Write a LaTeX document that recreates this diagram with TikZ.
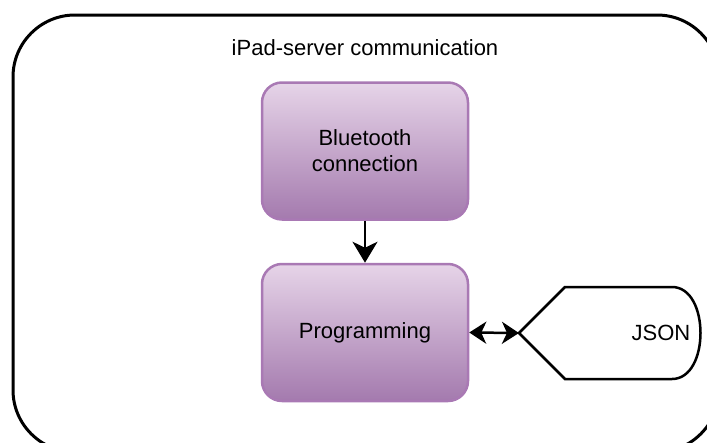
\documentclass[tikz,border=0pt]{standalone}
\usepackage{fontspec}
\setmainfont{Liberation Sans}
\usetikzlibrary{arrows.meta}
\definecolor{boxtop}{HTML}{E6D4E8}
\definecolor{boxbot}{HTML}{A47AAE}
\definecolor{boxline}{HTML}{A979B4}
\tikzset{
  label text/.style={font=\fontsize{22}{26}\selectfont, align=center, inner sep=0pt},
  stage/.style={draw=boxline, line width=2.5pt, rounded corners=20pt,
    top color=boxtop, bottom color=boxbot,
    minimum width=206pt, minimum height=137pt,
    label text},
  flow/.style={line width=2.5pt, -{Stealth[length=21pt, width=25pt, inset=6pt]}},
  twoway/.style={line width=2.5pt, {Stealth[length=17pt, width=22pt, inset=5pt]}-{Stealth[length=17pt, width=22pt, inset=5pt]}},
}
\begin{document}
\begin{tikzpicture}[x=1pt, y=-1pt]
\useasboundingbox (0,0) rectangle (707,442);
\begin{scope}
  \clip (0,0) rectangle (707,442);
  % outer container, running past the right and bottom edges
  \node[draw, line width=3pt, rounded corners=62pt,
        minimum width=706pt, minimum height=437pt, inner sep=0pt]
        (frame) at (366,233.5) {};
\end{scope}
\node[label text] (title) at (365,48) {iPad-server communication};

\node[stage] (bt) at (365,151) {Bluetooth\\connection};
\node[stage] (prog) at (365,332.5) {Programming};

% JSON data store shape
\coordinate (jsontip) at (519,333);
\draw[line width=2.5pt, line join=miter]
  (jsontip) -- (565,287) -- (672,287)
  .. controls (710,287) and (710,379) .. (672,379)
  -- (565,379) -- cycle;
\node[label text] (json) at (661,333) {JSON};

\draw[flow] (bt.south) -- (prog.north);
\draw[twoway] (prog.east) -- (jsontip);
\end{tikzpicture}
\end{document}
